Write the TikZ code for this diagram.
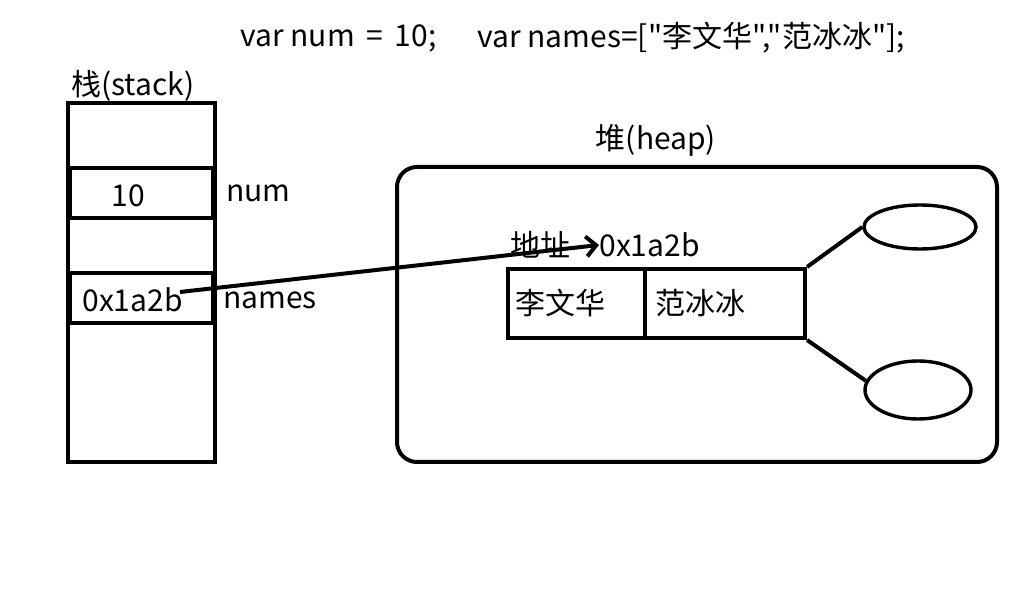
\documentclass[tikz,border=0pt]{standalone}
\usepackage{fontspec}
\newfontfamily\cjk{Noto Sans CJK SC}
\usetikzlibrary{shapes.geometric,arrows.meta}
\tikzset{
  box/.style={draw, line width=2pt, inner sep=0pt},
  txt/.style={font=\cjk\fontsize{15pt}{17pt}\selectfont, inner sep=0pt},
  oval/.style={draw, ellipse, line width=1.7pt, inner sep=0pt},
  link/.style={line width=2pt},
  ptr/.style={line width=2pt, -{Straight Barb[length=5pt,width=10pt,line width=2pt]}}
}
\begin{document}
\begin{tikzpicture}[x=0.5pt,y=-0.5pt]
\useasboundingbox (0,0) rectangle (1018,608);
% title
\node[txt, anchor=west] (t1) at (240,38) {var num \,=\, 10;};
\node[txt, anchor=west] (t2) at (477,38) {var names=["李文华","范冰冰"];};
% stack
\node[txt, anchor=west] (stacklbl) at (71,86) {栈(stack)};
\node[box, minimum width=73.5pt, minimum height=179.5pt] (stack) at (141.5,282.5) {};
\node[box, minimum width=71.5pt, minimum height=25pt] (cnum) at (141.5,193) {};
\node[box, minimum width=71.5pt, minimum height=25pt] (cnames) at (141.5,298) {};
\node[txt] (v10) at (128,196) {10};
\node[txt, anchor=west] (vaddr) at (82,300) {0x1a2b};
\node[txt, anchor=west] (lnum) at (226,193) {num};
\node[txt, anchor=west] (lnames) at (223,300) {names};
\coordinate (ptrstart) at (180,292);
% heap
\node[txt] (heaplbl) at (656,140) {堆(heap)};
\node[box, rounded corners=10pt, minimum width=300pt, minimum height=147.5pt] (heap) at (697,314.5) {};
\node[box, minimum width=68.5pt, minimum height=34.5pt] (a1) at (576.5,303.5) {};
\node[box, minimum width=80pt, minimum height=34.5pt] (a2) at (725,303.5) {};
\node[txt, anchor=west] (n1) at (515,303) {李文华};
\node[txt, anchor=west] (n2) at (655,303) {范冰冰};
\node[txt, anchor=west] (addrlbl) at (510,245) {地址};
\node[txt, anchor=west] (addr) at (599,245) {0x1a2b};
\node[oval, minimum width=56pt, minimum height=22pt] (e1) at (920,227) {};
\node[oval, minimum width=53pt, minimum height=29pt] (e2) at (918,390) {};
% connectors
\draw[link] (a2.north east) -- (e1.west);
\draw[link] (a2.south east) -- (e2.170);
\draw[ptr] (ptrstart) -- (addr.west);
\end{tikzpicture}
\end{document}
